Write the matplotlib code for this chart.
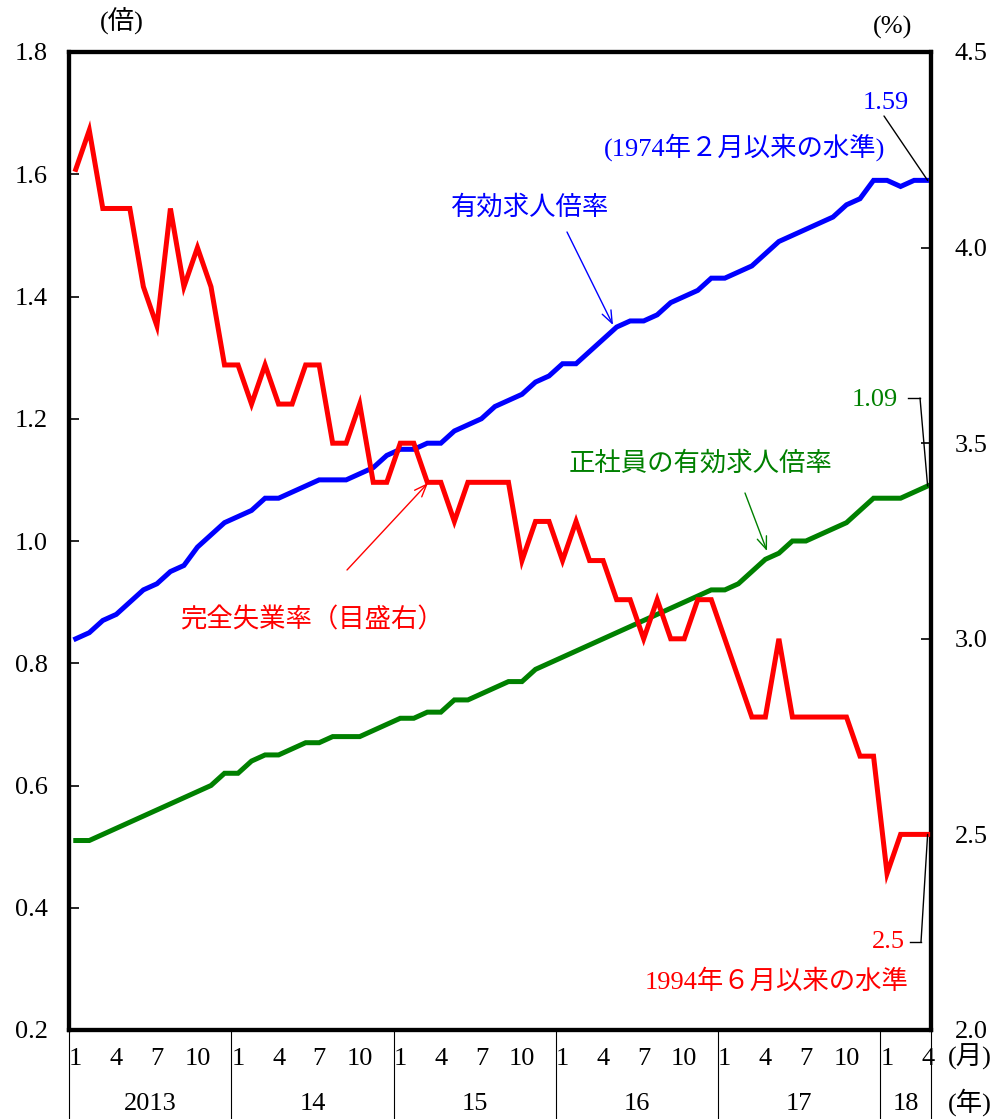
import matplotlib
matplotlib.use("Agg")
import matplotlib.pyplot as plt
from matplotlib.lines import Line2D
import matplotlib.transforms as mtransforms

plt.rcParams['font.family'] = ['Liberation Serif', 'Noto Sans CJK JP']

# ---- data ----
month_ticks = ['1', '4', '7', '10']
year_labels = ['2013', '14', '15', '16', '17', '18']
months_in_year = [12, 12, 12, 12, 12, 4]

jobs_ratio = [0.84, 0.85, 0.87, 0.88, 0.90, 0.92, 0.93, 0.95, 0.96, 0.99, 1.01, 1.03,
              1.04, 1.05, 1.07, 1.07, 1.08, 1.09, 1.10, 1.10, 1.10, 1.11, 1.12, 1.14,
              1.15, 1.15, 1.16, 1.16, 1.18, 1.19, 1.20, 1.22, 1.23, 1.24, 1.26, 1.27,
              1.29, 1.29, 1.31, 1.33, 1.35, 1.36, 1.36, 1.37, 1.39, 1.40, 1.41, 1.43,
              1.43, 1.44, 1.45, 1.47, 1.49, 1.50, 1.51, 1.52, 1.53, 1.55, 1.56, 1.59,
              1.59, 1.58, 1.59, 1.59]
regular_ratio = [0.51, 0.51, 0.52, 0.53, 0.54, 0.55, 0.56, 0.57, 0.58, 0.59, 0.60, 0.62,
                 0.62, 0.64, 0.65, 0.65, 0.66, 0.67, 0.67, 0.68, 0.68, 0.68, 0.69, 0.70,
                 0.71, 0.71, 0.72, 0.72, 0.74, 0.74, 0.75, 0.76, 0.77, 0.77, 0.79, 0.80,
                 0.81, 0.82, 0.83, 0.84, 0.85, 0.86, 0.87, 0.88, 0.89, 0.90, 0.91, 0.92,
                 0.92, 0.93, 0.95, 0.97, 0.98, 1.00, 1.00, 1.01, 1.02, 1.03, 1.05, 1.07,
                 1.07, 1.07, 1.08, 1.09]
unemployment = [4.2, 4.3, 4.1, 4.1, 4.1, 3.9, 3.8, 4.1, 3.9, 4.0, 3.9, 3.7,
                3.7, 3.6, 3.7, 3.6, 3.6, 3.7, 3.7, 3.5, 3.5, 3.6, 3.4, 3.4,
                3.5, 3.5, 3.4, 3.4, 3.3, 3.4, 3.4, 3.4, 3.4, 3.2, 3.3, 3.3,
                3.2, 3.3, 3.2, 3.2, 3.1, 3.1, 3.0, 3.1, 3.0, 3.0, 3.1, 3.1,
                3.0, 2.9, 2.8, 2.8, 3.0, 2.8, 2.8, 2.8, 2.8, 2.8, 2.7, 2.7,
                2.4, 2.5, 2.5, 2.5]
left_ticks = [0.2, 0.4, 0.6, 0.8, 1.0, 1.2, 1.4, 1.6, 1.8]
left_tick_labels = ['0.2', '0.4', '0.6', '0.8', '1.0', '1.2', '1.4', '1.6', '1.8']
right_ticks = [2.0, 2.5, 3.0, 3.5, 4.0, 4.5]
right_tick_labels = ['2.0', '2.5', '3.0', '3.5', '4.0', '4.5']

BLUE = '#0000ff'
RED = '#ff0000'
GREEN = '#008000'
W, H = 995, 1119

fig = plt.figure(figsize=(W / 100, H / 100), dpi=100)
ax = fig.add_axes([69 / W, (H - 1030) / H, (931 - 69) / W, 978 / H])
ax2 = ax.twinx()

x = list(range(len(jobs_ratio)))
ax.plot(x, jobs_ratio, color=BLUE, lw=3.6, solid_joinstyle='miter', zorder=3)
ax.plot(x, regular_ratio, color=GREEN, lw=3.6, solid_joinstyle='miter', zorder=3)
ax2.plot(x, unemployment, color=RED, lw=3.6, solid_joinstyle='miter', zorder=3)

xmin, xmax = -0.5, 63.25
ax.set_xlim(xmin, xmax)
ax.set_ylim(0.2, 1.8)
ax2.set_ylim(2.0, 4.5)

FS = 19
ax.set_yticks(left_ticks)
ax.set_yticklabels(left_tick_labels, fontsize=FS)
ax2.set_yticks(right_ticks)
ax2.set_yticklabels(right_tick_labels, fontsize=FS)
ax.tick_params(axis='y', direction='in', length=7, width=1.2, pad=15)
ax2.tick_params(axis='y', direction='in', length=7, width=1.2, pad=17)

# month ticks
pos, labs = [], []
start = 0
for n in months_in_year:
    for k, m in enumerate([0, 3, 6, 9]):
        if m < n:
            pos.append(start + m)
            labs.append(month_ticks[k])
    start += n
ax.set_xticks(pos)
ax.set_xticklabels(labs, fontsize=FS)
ax.tick_params(axis='x', length=0, pad=13)

for a in (ax, ax2):
    for s in a.spines.values():
        s.set_linewidth(3)

# year separators and labels
trans = mtransforms.blended_transform_factory(ax.transData, ax.transAxes)
start = 0
seps = [xmin]
for n in months_in_year:
    start += n
    seps.append(min(start - 0.5, xmax))
for sx in seps:
    ax.add_line(Line2D([sx, sx], [0, -0.095], transform=trans, color='black',
                       lw=0.8, clip_on=False))
for i, yl in enumerate(year_labels):
    cx = (seps[i] + seps[i + 1]) / 2
    ax.text(cx, -0.0756, yl, transform=trans, ha='center', va='center', fontsize=FS)


def fp(px, py):
    return (px, H - py)


fig.text(970 / W, 1 - 1057 / H, '(月)', ha='center', va='center', fontsize=FS)
fig.text(970 / W, 1 - 1102 / H, '(年)', ha='center', va='center', fontsize=FS)
fig.text(122 / W, 1 - 21 / H, '(倍)', ha='center', va='center', fontsize=FS)
fig.text(893 / W, 1 - 27 / H, '(%)', ha='center', va='center', fontsize=FS)

# annotations
fig.text(909 / W, 1 - 103 / H, '1.59', ha='right', va='center', fontsize=FS, color=BLUE)
fig.text(745 / W, 1 - 147 / H, '(1974年２月以来の水準)', ha='center', va='center',
         fontsize=FS, color=BLUE)
ax.annotate('', xy=(63, jobs_ratio[-1]), xycoords='data', xytext=fp(884, 116),
            textcoords='figure pixels',
            arrowprops=dict(arrowstyle='-', color='black', lw=1, shrinkA=0, shrinkB=0))

fig.text(530 / W, 1 - 207 / H, '有効求人倍率', ha='center', va='center', fontsize=FS, color=BLUE)
ax.annotate('', xy=fp(613, 325), xycoords='figure pixels', xytext=fp(567, 232),
            textcoords='figure pixels',
            arrowprops=dict(arrowstyle='->,head_length=0.9,head_width=0.35', color=BLUE, lw=1,
                            shrinkA=0, shrinkB=0))

fig.text(700 / W, 1 - 463 / H, '正社員の有効求人倍率', ha='center', va='center', fontsize=FS,
         color=GREEN)
ax.annotate('', xy=fp(767, 551), xycoords='figure pixels', xytext=fp(745, 493),
            textcoords='figure pixels',
            arrowprops=dict(arrowstyle='->,head_length=0.9,head_width=0.35', color=GREEN, lw=1,
                            shrinkA=0, shrinkB=0))

fig.text(898 / W, 1 - 400 / H, '1.09', ha='right', va='center', fontsize=FS, color=GREEN)
fig.add_artist(Line2D([908 / W, 920 / W], [1 - 398 / H, 1 - 398 / H], transform=fig.transFigure,
                      color='black', lw=1))
ax.annotate('', xy=(63, regular_ratio[-1]), xycoords='data', xytext=fp(920, 398),
            textcoords='figure pixels',
            arrowprops=dict(arrowstyle='-', color='black', lw=1, shrinkA=0, shrinkB=0))

fig.text(312 / W, 1 - 620 / H, '完全失業率（目盛右）', ha='center', va='center', fontsize=FS,
         color=RED)
ax.annotate('', xy=fp(428, 483), xycoords='figure pixels', xytext=fp(347, 570),
            textcoords='figure pixels',
            arrowprops=dict(arrowstyle='->,head_length=0.9,head_width=0.35', color=RED, lw=1,
                            shrinkA=0, shrinkB=0))

fig.text(905 / W, 1 - 942 / H, '2.5', ha='right', va='center', fontsize=FS, color=RED)
fig.add_artist(Line2D([910 / W, 921 / W], [1 - 942 / H, 1 - 942 / H], transform=fig.transFigure,
                      color='black', lw=1))
ax2.annotate('', xy=(63, unemployment[-1]), xycoords='data', xytext=fp(921, 942),
             textcoords='figure pixels',
             arrowprops=dict(arrowstyle='-', color='black', lw=1, shrinkA=0, shrinkB=0))
fig.text(777 / W, 1 - 982 / H, '1994年６月以来の水準', ha='center', va='center', fontsize=FS,
         color=RED)

fig.savefig('out.png', dpi=100)
